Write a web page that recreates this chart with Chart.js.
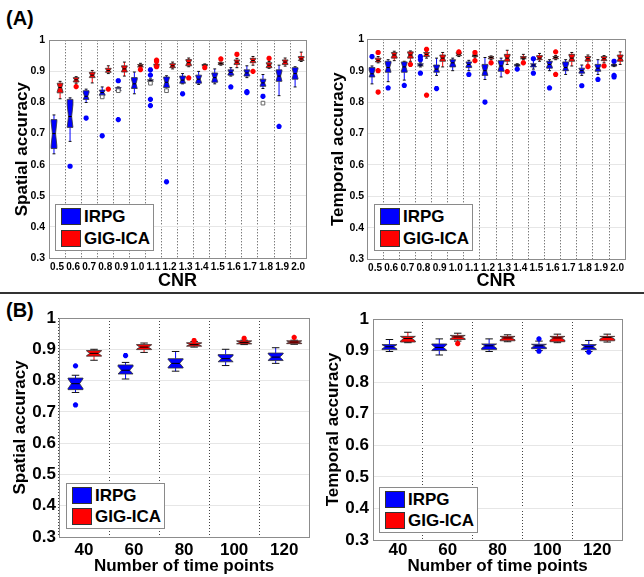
<!DOCTYPE html>
<html lang="en">
<head>
<meta charset="UTF-8">
<title>IRPG vs GIG-ICA accuracy</title>
<script src="https://cdn.jsdelivr.net/npm/chart.js"></script>
<style>
  body { margin: 0; background: #fff; font-family: "Liberation Sans", Arial, sans-serif; }
  #page { position: relative; width: 644px; height: 577px; overflow: hidden; background: #fff; }
  .panel { position: absolute; }
  .tag { position: absolute; font-weight: bold; font-size: 20px; line-height: 20px; color: #000; }
  .rule { position: absolute; left: 0; top: 292px; width: 644px; height: 2px; background: #333; z-index: 3; }
  .legend { position: absolute; background: #fff; border: 1px solid #8a8a8a; z-index: 2; }
  .legend .sw { position: absolute; left: 5px; width: 20px; height: 17px; border: 1px solid #333; box-sizing: border-box; }
  .legend .tx { position: absolute; left: 28px; font-weight: bold; font-size: 17px; line-height: 18px; color: #000; }
</style>
</head>
<body>
<div id="page">
  <div class="tag" style="left:6px;top:8px">(A)</div>
  <div class="tag" style="left:6px;top:300px">(B)</div>
  <div class="rule"></div>

  <div class="panel" style="left:0;top:30px;width:312px;height:262px"><canvas id="spatialCnr"></canvas></div>
  <div class="panel" style="left:320px;top:30px;width:311px;height:262px"><canvas id="temporalCnr"></canvas></div>
  <div class="panel" style="left:0;top:300px;width:315px;height:277px"><canvas id="spatialTime"></canvas></div>
  <div class="panel" style="left:320px;top:300px;width:308px;height:277px"><canvas id="temporalTime"></canvas></div>

  <div class="legend" style="left:55px;top:204px;width:97px;height:45px">
    <span class="sw" style="top:3px;background:#0000ff"></span><span class="tx" style="top:3px">IRPG</span>
    <span class="sw" style="top:25px;background:#ff0000"></span><span class="tx" style="top:25px">GIG-ICA</span>
  </div>
  <div class="legend" style="left:374px;top:204px;width:97px;height:45px">
    <span class="sw" style="top:3px;background:#0000ff"></span><span class="tx" style="top:3px">IRPG</span>
    <span class="sw" style="top:25px;background:#ff0000"></span><span class="tx" style="top:25px">GIG-ICA</span>
  </div>
  <div class="legend" style="left:66px;top:483px;width:97px;height:44px">
    <span class="sw" style="top:3px;background:#0000ff"></span><span class="tx" style="top:3px">IRPG</span>
    <span class="sw" style="top:24px;background:#ff0000"></span><span class="tx" style="top:24px">GIG-ICA</span>
  </div>
  <div class="legend" style="left:379px;top:487px;width:97px;height:44px">
    <span class="sw" style="top:3px;background:#0000ff"></span><span class="tx" style="top:3px">IRPG</span>
    <span class="sw" style="top:24px;background:#ff0000"></span><span class="tx" style="top:24px">GIG-ICA</span>
  </div>
</div>

<script>
// categories
const cnrLabels = ['0.5', '0.6', '0.7', '0.8', '0.9', '1.0', '1.1', '1.2', '1.3', '1.4', '1.5', '1.6', '1.7', '1.8', '1.9', '2.0'];
const timeLabels = ['40', '60', '80', '100', '120'];

// box stats: [lower whisker, q1, median, q3, upper whisker]
const spatialCnrIrpg = [
  [0.635, 0.652, 0.70, 0.745, 0.76], [0.675, 0.72, 0.755, 0.81, 0.815], [0.80, 0.81, 0.82, 0.838, 0.843],
  [0.815, 0.823, 0.832, 0.84, 0.85], [0.835, 0.838, 0.843, 0.848, 0.85], [0.828, 0.845, 0.86, 0.88, 0.898],
  [0.866, 0.868, 0.87, 0.873, 0.876], [0.84, 0.848, 0.865, 0.882, 0.886], [0.86, 0.862, 0.872, 0.885, 0.893],
  [0.858, 0.862, 0.875, 0.888, 0.90], [0.86, 0.865, 0.88, 0.895, 0.908], [0.885, 0.888, 0.897, 0.905, 0.912],
  [0.88, 0.885, 0.895, 0.905, 0.918], [0.845, 0.852, 0.863, 0.875, 0.89], [0.822, 0.868, 0.885, 0.905, 0.92],
  [0.85, 0.875, 0.893, 0.912, 0.915]
];
const spatialCnrIrpgOut = [[], [0.595], [0.75], [0.693], [0.87, 0.745], [], [0.905, 0.888, 0.81, 0.79], [0.545],
  [0.828], [], [], [0.85], [0.835, 0.832], [0.82], [0.723], []];
const spatialCnrSquares = [[], [], [], [0.818], [0.838], [], [0.862], [0.838], [], [], [], [], [], [0.798], [], []];
const spatialCnrGig = [
  [0.812, 0.831, 0.848, 0.862, 0.868], [0.862, 0.866, 0.873, 0.88, 0.883], [0.863, 0.88, 0.888, 0.897, 0.903],
  [0.893, 0.897, 0.903, 0.91, 0.918], [0.885, 0.898, 0.908, 0.918, 0.93], [0.91, 0.914, 0.918, 0.922, 0.926],
  [0.916, 0.918, 0.92, 0.923, 0.925], [0.908, 0.912, 0.918, 0.925, 0.93], [0.915, 0.918, 0.928, 0.938, 0.943],
  [0.916, 0.918, 0.92, 0.922, 0.924], [0.92, 0.922, 0.925, 0.928, 0.93], [0.912, 0.922, 0.93, 0.937, 0.942],
  [0.92, 0.928, 0.935, 0.942, 0.948], [0.91, 0.912, 0.92, 0.928, 0.932], [0.917, 0.922, 0.93, 0.937, 0.943],
  [0.932, 0.935, 0.94, 0.948, 0.962]
];
const spatialCnrGigOut = [[], [0.851], [], [0.843], [], [0.906], [0.936, 0.932, 0.915], [], [0.879], [0.912],
  [0.94], [0.955], [0.90], [0.942], [], []];

const temporalCnrIrpg = [
  [0.858, 0.88, 0.89, 0.91, 0.915], [0.865, 0.895, 0.91, 0.93, 0.935], [0.87, 0.895, 0.912, 0.928, 0.93],
  [0.912, 0.915, 0.918, 0.922, 0.925], [0.885, 0.895, 0.905, 0.918, 0.94], [0.90, 0.912, 0.925, 0.935, 0.94],
  [0.90, 0.91, 0.92, 0.928, 0.933], [0.872, 0.885, 0.90, 0.92, 0.942], [0.88, 0.898, 0.915, 0.932, 0.94],
  [0.913, 0.915, 0.918, 0.92, 0.922], [0.905, 0.912, 0.918, 0.922, 0.935], [0.90, 0.908, 0.92, 0.93, 0.935],
  [0.888, 0.90, 0.91, 0.928, 0.935], [0.885, 0.892, 0.90, 0.908, 0.918], [0.888, 0.898, 0.908, 0.92, 0.935],
  [0.913, 0.915, 0.918, 0.92, 0.922]
];
const temporalCnrIrpgOut = [[0.945], [0.845], [0.853], [0.945, 0.935, 0.892], [0.843], [], [0.888], [0.80], [],
  [0.905], [0.938, 0.892], [0.845], [], [0.852], [0.872], [0.93, 0.885, 0.88]];
const temporalCnrGig = [
  [0.925, 0.928, 0.933, 0.94, 0.945], [0.932, 0.94, 0.95, 0.958, 0.962], [0.93, 0.94, 0.95, 0.96, 0.963],
  [0.94, 0.945, 0.952, 0.958, 0.962], [0.912, 0.93, 0.94, 0.95, 0.958], [0.945, 0.948, 0.952, 0.957, 0.958],
  [0.943, 0.945, 0.948, 0.95, 0.952], [0.935, 0.938, 0.942, 0.945, 0.947], [0.92, 0.93, 0.94, 0.952, 0.965],
  [0.935, 0.938, 0.94, 0.945, 0.952], [0.93, 0.935, 0.94, 0.948, 0.955], [0.935, 0.938, 0.942, 0.945, 0.948],
  [0.915, 0.93, 0.94, 0.952, 0.958], [0.92, 0.93, 0.938, 0.945, 0.95], [0.925, 0.932, 0.938, 0.945, 0.948],
  [0.92, 0.93, 0.94, 0.95, 0.96]
];
const temporalCnrGigOut = [[0.958, 0.90, 0.832], [], [0.92], [0.968, 0.822], [], [0.96], [0.958, 0.932], [0.925],
  [0.897], [0.925], [], [0.96, 0.888], [], [0.913], [0.915], []];

const spatialTimeIrpg = [
  [0.762, 0.771, 0.79, 0.808, 0.817], [0.805, 0.821, 0.833, 0.85, 0.858], [0.83, 0.84, 0.855, 0.87, 0.893],
  [0.848, 0.86, 0.87, 0.883, 0.90], [0.855, 0.864, 0.875, 0.888, 0.905]
];
const spatialTimeIrpgOut = [[0.847, 0.722], [0.88], [], [], []];
const spatialTimeGig = [
  [0.865, 0.878, 0.887, 0.896, 0.90], [0.89, 0.899, 0.907, 0.915, 0.92], [0.907, 0.91, 0.915, 0.921, 0.925],
  [0.915, 0.917, 0.922, 0.927, 0.929], [0.916, 0.918, 0.923, 0.927, 0.929]
];
const spatialTimeGigOut = [[], [], [0.928], [0.935], [0.938]];

const temporalTimeIrpg = [
  [0.897, 0.903, 0.912, 0.919, 0.935], [0.886, 0.90, 0.91, 0.921, 0.937], [0.897, 0.903, 0.915, 0.921, 0.937],
  [0.90, 0.906, 0.915, 0.92, 0.93], [0.897, 0.903, 0.912, 0.919, 0.932]
];
const temporalTimeIrpgOut = [[], [], [], [0.937, 0.898], [0.895]];
const temporalTimeGig = [
  [0.925, 0.927, 0.938, 0.945, 0.958], [0.93, 0.935, 0.943, 0.948, 0.955], [0.928, 0.931, 0.94, 0.945, 0.95],
  [0.925, 0.928, 0.94, 0.945, 0.952], [0.927, 0.931, 0.942, 0.945, 0.952]
];
const temporalTimeGigOut = [[], [0.922], [], [], []];

const yTicks = [0.3, 1.0];
const BLUE = '#0000ff';
const RED = '#ff0000';

Chart.defaults.font.family = '"Liberation Sans", Arial, sans-serif';
Chart.defaults.color = '#000';

// notched boxes + whiskers, drawn through the chart's own scales
function boxLayer(series, boxWidth) {
  return {
    id: 'boxLayer',
    beforeDatasetsDraw(chart) {
      const { ctx, scales: { x, y } } = chart;
      const band = x.getPixelForValue(1) - x.getPixelForValue(0);
      const hw = band * boxWidth / 2;
      ctx.save();
      series.forEach(s => {
        s.stats.forEach((st, i) => {
          const cx = x.getPixelForValue(i) + s.shift * band;
          const [lo, q1, md, q3, hi] = st.map(v => y.getPixelForValue(v));
          const l = cx - hw, r = cx + hw, ins = hw * 0.45;
          const n = (q1 - q3) * 0.42;
          const nt = Math.max(q3, md - n), nb = Math.min(q1, md + n);
          // whiskers
          ctx.lineWidth = 1;
          ctx.strokeStyle = s.color;
          ctx.beginPath();
          ctx.moveTo(cx, hi); ctx.lineTo(cx, q3);
          ctx.moveTo(cx, q1); ctx.lineTo(cx, lo);
          ctx.stroke();
          ctx.strokeStyle = '#111';
          ctx.beginPath();
          ctx.moveTo(cx - hw / 2, hi); ctx.lineTo(cx + hw / 2, hi);
          ctx.moveTo(cx - hw / 2, lo); ctx.lineTo(cx + hw / 2, lo);
          ctx.stroke();
          // notched box
          ctx.beginPath();
          ctx.moveTo(l, q3); ctx.lineTo(r, q3); ctx.lineTo(r, nt); ctx.lineTo(r - ins, md);
          ctx.lineTo(r, nb); ctx.lineTo(r, q1); ctx.lineTo(l, q1); ctx.lineTo(l, nb);
          ctx.lineTo(l + ins, md); ctx.lineTo(l, nt); ctx.closePath();
          ctx.fillStyle = s.color;
          ctx.fill();
          ctx.lineWidth = 0.8;
          ctx.strokeStyle = '#333';
          ctx.stroke();
          // median
          ctx.lineWidth = 1;
          ctx.strokeStyle = '#000';
          ctx.beginPath();
          ctx.moveTo(l + ins, md); ctx.lineTo(r - ins, md);
          ctx.stroke();
        });
      });
      ctx.restore();
    }
  };
}

const frame = {
  id: 'frame',
  afterDraw(chart) {
    const { ctx, chartArea: a } = chart;
    ctx.save();
    ctx.strokeStyle = '#8c8c8c';
    ctx.lineWidth = 1;
    ctx.strokeRect(Math.round(a.left) + 0.5, Math.round(a.top) + 0.5,
      Math.round(a.right - a.left), Math.round(a.bottom - a.top));
    ctx.restore();
  }
};

function points(lists, shift) {
  return lists.flatMap((vals, i) => vals.map(v => ({ x: i + shift, y: v })));
}

function makeChart(id, o) {
  const shifts = o.shifts;
  const datasets = [
    { data: points(o.irpgOut, shifts[0]), pointStyle: 'star', radius: 2.6, borderWidth: 1.8, borderColor: BLUE, backgroundColor: BLUE, xAxisID: 'xs' },
    { data: points(o.gigOut, shifts[1]), pointStyle: 'star', radius: 2.6, borderWidth: 1.8, borderColor: RED, backgroundColor: RED, xAxisID: 'xs' }
  ];
  if (o.squares) {
    datasets.push({ data: points(o.squares, shifts[0]), pointStyle: 'rect', radius: 2.6, borderWidth: 1, borderColor: '#666', backgroundColor: '#fff', xAxisID: 'xs' });
  }
  new Chart(document.getElementById(id), {
    type: 'scatter',
    data: { labels: o.labels, datasets },
    options: {
      responsive: true,
      maintainAspectRatio: false,
      devicePixelRatio: 1,
      animation: false,
      events: [],
      layout: { padding: { top: o.padTop, right: o.padRight, left: 0, bottom: 0 } },
      plugins: { legend: { display: false }, tooltip: { enabled: false } },
      scales: {
        x: {
          type: 'category',
          offset: true,
          grid: { offset: true, color: '#444', lineWidth: 1, drawTicks: false },
          border: { display: false, dash: [1, 2] },
          ticks: { autoSkip: false, maxRotation: 0, padding: o.xTickPad, font: { size: o.xTickSize, weight: 'bold' } },
          title: { display: true, text: o.xTitle, padding: { top: 0, bottom: 0 }, font: { size: o.xTitleSize, weight: 'bold' } },
          afterFit: s => { s.height = o.xHeight; }
        },
        xs: { type: 'linear', display: false, min: -0.5, max: o.labels.length - 0.5 },
        y: {
          min: yTicks[0],
          max: yTicks[1],
          grid: { color: '#e6e6e6', lineWidth: 1, drawTicks: false },
          border: { display: false },
          ticks: { stepSize: 0.1, padding: o.yTickPad, font: { size: o.yTickSize, weight: 'bold' },
            callback: v => String(Number(v.toFixed(1))) },
          title: { display: true, text: o.yTitle, padding: { top: o.yTitlePad, bottom: 0 }, font: { size: o.yTitleSize, weight: 'bold' } },
          afterFit: s => { s.width = o.yWidth; }
        }
      }
    },
    plugins: [boxLayer([
      { stats: o.irpg, color: BLUE, shift: shifts[0] },
      { stats: o.gig, color: RED, shift: shifts[1] }
    ], o.boxWidth), frame]
  });
}

const cnrLayout = { labels: cnrLabels, xTitle: 'CNR', shifts: [-0.19, 0.19], boxWidth: 0.36,
  xTickSize: 10, xTickPad: 3, xTitleSize: 18, yTickSize: 10.5, yTitleSize: 17, padTop: 4, padRight: 4 };
const timeLayout = { labels: timeLabels, xTitle: 'Number of time points', shifts: [-0.17, 0.2], boxWidth: 0.3,
  xTickSize: 17, xTitleSize: 17, yTickSize: 17, yTitleSize: 17, padRight: 4 };

makeChart('spatialCnr', Object.assign({}, cnrLayout, {
  irpg: spatialCnrIrpg, gig: spatialCnrGig, irpgOut: spatialCnrIrpgOut, gigOut: spatialCnrGigOut, squares: spatialCnrSquares,
  yTitle: 'Spatial accuracy', yWidth: 49, yTickPad: 4, yTitlePad: 12, xHeight: 34
}));
makeChart('temporalCnr', Object.assign({}, cnrLayout, {
  irpg: temporalCnrIrpg, gig: temporalCnrGig, irpgOut: temporalCnrIrpgOut, gigOut: temporalCnrGigOut,
  yTitle: 'Temporal accuracy', yWidth: 47, yTickPad: 3, yTitlePad: 8, xHeight: 33
}));
makeChart('spatialTime', Object.assign({}, timeLayout, {
  irpg: spatialTimeIrpg, gig: spatialTimeGig, irpgOut: spatialTimeIrpgOut, gigOut: spatialTimeGigOut,
  yTitle: 'Spatial accuracy', yWidth: 59, yTickPad: 3, yTitlePad: 10, padTop: 18, xHeight: 40, xTickPad: 3
}));
makeChart('temporalTime', Object.assign({}, timeLayout, {
  irpg: temporalTimeIrpg, gig: temporalTimeGig, irpgOut: temporalTimeIrpgOut, gigOut: temporalTimeGigOut,
  yTitle: 'Temporal accuracy', yWidth: 53, yTickPad: 4, yTitlePad: 3, padTop: 19, xHeight: 37, xTickPad: 0
}));
</script>
</body>
</html>
